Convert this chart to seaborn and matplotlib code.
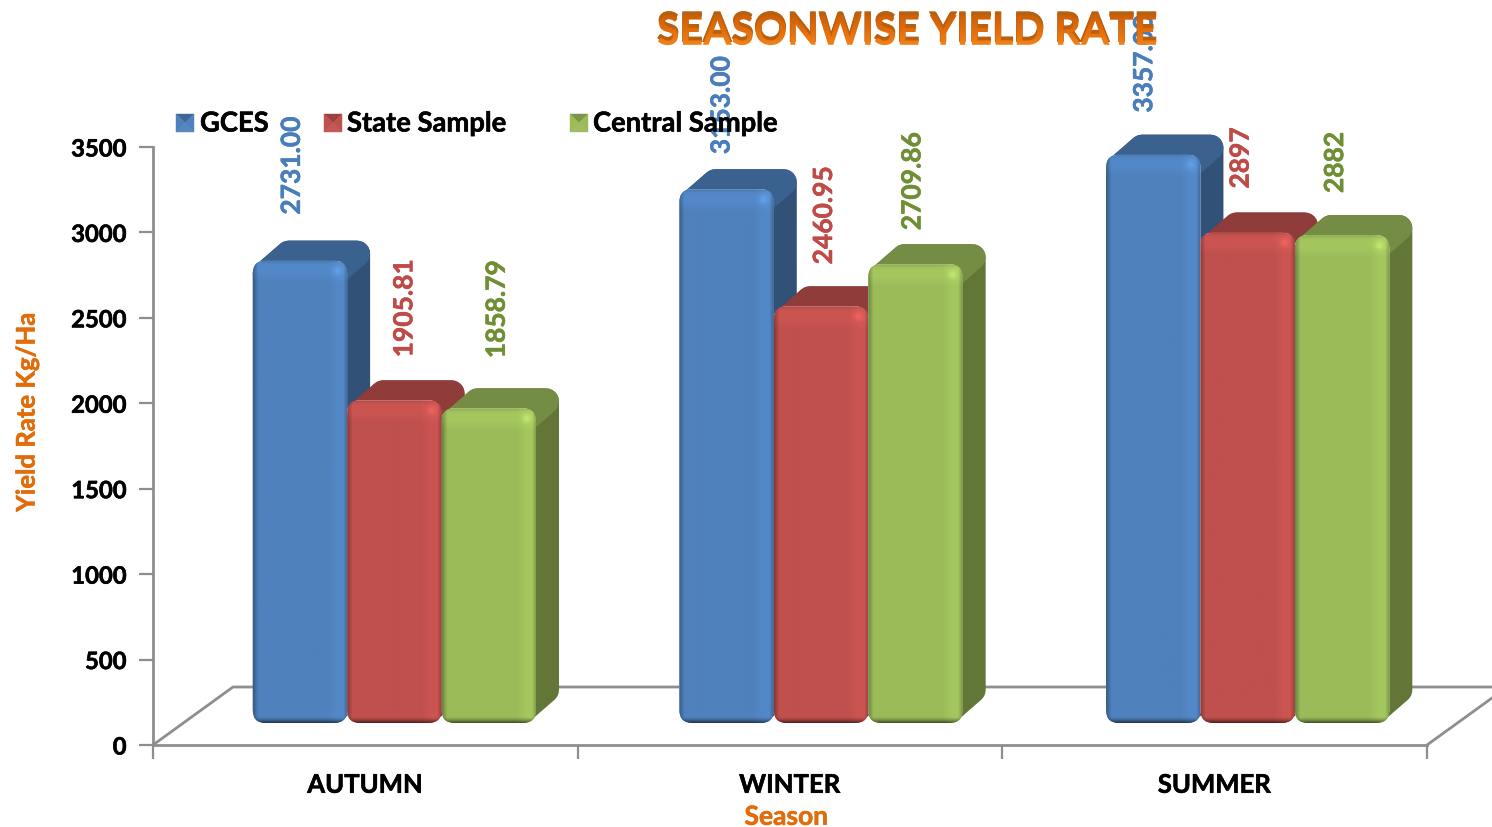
import numpy as np
import pandas as pd
import matplotlib
matplotlib.use("Agg")
import matplotlib.pyplot as plt
import matplotlib.patheffects as pe
from matplotlib.colors import to_rgb, LinearSegmentedColormap
from matplotlib.font_manager import FontProperties
from matplotlib.patches import FancyBboxPatch, PathPatch, Polygon
from matplotlib.path import Path
from matplotlib.textpath import TextPath
from matplotlib.transforms import Affine2D, IdentityTransform
import seaborn as sns

seasons = ["AUTUMN", "WINTER", "SUMMER"]
sample_names = ["GCES", "State Sample", "Central Sample"]
gces = [2731.00, 3153.00, 3357.00]
state_sample = [1905.81, 2460.95, 2897]
central_sample = [1858.79, 2709.86, 2882]
gces_labels = ["2731.00", "3153.00", "3357.00"]
state_labels = ["1905.81", "2460.95", "2897"]
central_labels = ["1858.79", "2709.86", "2882"]
y_ticks = [0, 500, 1000, 1500, 2000, 2500, 3000, 3500]

bar_colors = ["#4F81BD", "#C0504D", "#9BBB59"]
label_colors = ["#4A7EBB", "#BE4B48", "#6F8F35"]
orange = "#E36C0A"
grey = "#8E8E8E"

W, H = 1492, 827
# label nudges in pixels, the labels were placed by hand in the original
nudge_x = [-8, -5, -9, 10, 3, -7, 8, -3, -7]
nudge_y = [46, 35, 42, 43, 42, 44, 50, 34, 42]

sns.set_style("white")
plt.rcParams["font.family"] = ["Lato", "DejaVu Sans"]
plt.rcParams["font.weight"] = "bold"

df = pd.DataFrame({
    "season": seasons * 3,
    "sample": np.repeat(sample_names, 3),
    "rate": gces + state_sample + central_sample,
})
labels = gces_labels + state_labels + central_labels

fig = plt.figure(figsize=(W / 100, H / 100), dpi=100, facecolor="white")


def box(x0, y_top, x1, y_bottom):
    return [x0 / W, 1 - y_bottom / H, (x1 - x0) / W, (y_bottom - y_top) / H]


def heavy(color, lw=0.4):
    # Lato bold is lighter than the original face
    return [pe.withStroke(linewidth=lw, foreground=color)]


# axis frame
ax = fig.add_axes(box(153, 147, 1427, 745), zorder=0)
ax.set_xlim(0, 3)
ax.set_ylim(0, 3500)
ax.set_yticks(y_ticks)
ax.set_xticks([0, 1, 2, 3])
ax.set_xticklabels([])
ax.set_xticks([0.5, 1.5, 2.5], seasons, minor=True)
ax.tick_params(axis="both", which="major", length=10, width=1.6, color=grey,
               left=True, bottom=True, labelsize=17.2, pad=9, labelcolor="black")
ax.tick_params(axis="x", which="minor", length=0, labelsize=18.5, pad=20, labelcolor="black")
for t in ax.get_yticklabels() + ax.get_xticklabels(minor=True):
    t.set_path_effects(heavy("black"))
for s in ["top", "right"]:
    ax.spines[s].set_visible(False)
for s in ["left", "bottom"]:
    ax.spines[s].set_color(grey)
    ax.spines[s].set_linewidth(2)
ax.set_ylabel("Yield Rate Kg/Ha", color=orange, fontsize=18.5, fontweight="bold", path_effects=heavy(orange))
ax.yaxis.set_label_coords(-0.0898, 0.557)
ax.set_xlabel("Season", color=orange, fontsize=19, fontweight="bold", path_effects=heavy(orange))
ax.xaxis.set_label_coords(0.497, -0.1)

# floor of the 3d box
floor_x = [0, 80 / 1274, 1339 / 1274]
floor_y = [0, 58 / 598, 58 / 598]
ax.plot(floor_x, floor_y, color=grey, lw=2, transform=ax.transAxes, clip_on=False)
ax.plot([1, 1339 / 1274], [0, 47 / 598], color=grey, lw=2, transform=ax.transAxes, clip_on=False)

# bars sit on their own plane, a bit above the axis frame
ax_bar = fig.add_axes(box(181, 0, 1461, 723), zorder=1)
ax_bar.patch.set_alpha(0)
sns.barplot(data=df, x="season", y="rate", hue="sample", order=seasons, hue_order=sample_names,
            palette=bar_colors, saturation=1, width=0.664, gap=0, legend=False, ax=ax_bar)
ax_bar.set_xlim(-0.5, 2.5)
ax_bar.set_ylim(0, 723 / 0.1693)
ax_bar.axis("off")
fig.canvas.draw()

DX, DY, R = 23, 20, 13
pixel = IdentityTransform()


def face_image(color, w, h):
    # bevel: dark rim left and bottom, light band top and right
    xs, ys = np.meshgrid(np.arange(w), np.arange(h))
    from_right = w - 1 - xs
    from_bottom = h - 1 - ys
    shade = np.zeros((h, w))
    shade -= 0.28 * np.clip(1 - xs / 5, 0, 1)
    shade += 0.06 * np.clip(from_right / 5, 0, 1) * np.clip((20 - from_right) / 10, 0, 1)
    shade -= 0.20 * np.clip(1 - from_right / 4, 0, 1)
    shade += 0.06 * np.clip(ys / 6, 0, 1) * np.clip((22 - ys) / 10, 0, 1)
    shade -= 0.08 * np.clip(1 - ys / 3, 0, 1)
    shade -= 0.55 * np.clip(1 - from_bottom / 6, 0, 1) ** 1.5
    shade += 0.12 * np.exp(-(((from_right - 10) / 4.0) ** 2 + ((ys - 10) / 4.0) ** 2))
    rgb = np.array(to_rgb(color))[None, None, :]
    return np.clip(rgb * (1 + shade[:, :, None]), 0, 1)


bars = sorted(ax_bar.patches, key=lambda b: b.get_x())
for i, bar in enumerate(bars):
    z = 2 + i * 3
    color = np.array(to_rgb(bar.get_facecolor()[:3]))
    x = bar.get_x()
    w = bar.get_width()
    h = bar.get_height()
    (x0, y0), (x1, y1) = ax_bar.transData.transform([(x, 0), (x + w, h)])

    # side and top faces, the thick round edge gives the soft corners
    c = [(x0 + R, y0 + R), (x0 + R, y1 - R), (x0 + DX + R, y1 + DY - R),
         (x1 + DX - R, y1 + DY - R), (x1 + DX - R, y0 + DY + R), (x1 - R, y0 + R)]
    lw_pt = 2 * R * 0.72
    ax_bar.add_patch(Polygon(c, closed=True, transform=pixel, facecolor=color * 0.63, edgecolor=color * 0.63,
                             lw=lw_pt, joinstyle="round", zorder=z, clip_on=False))
    ax_bar.add_patch(Polygon([(x0 + R, y1 - R), (x0 + DX + R, y1 + DY - R), (x1 + DX - R, y1 + DY - R), (x1 - R, y1 - R)],
                             closed=True, transform=pixel, facecolor=color * 0.75, edgecolor=color * 0.75,
                             lw=lw_pt, joinstyle="round", zorder=z, clip_on=False))

    # front face, keeps the seaborn bar under a bevel image
    front = FancyBboxPatch((x0 + R, y0 + R), x1 - x0 - 2 * R, y1 - y0 - 2 * R,
                           boxstyle=f"round,pad={R},rounding_size={R}", transform=pixel, lw=0)
    bar.set_zorder(z + 1)
    bar.set_clip_path(front)
    img = face_image(color, int(round(x1 - x0)), int(round(y1 - y0)))
    im = ax_bar.imshow(img, extent=(x, x + w, 0, h), aspect="auto", zorder=z + 2, interpolation="bilinear")
    im.set_clip_path(front)

ax_bar.set_xlim(-0.5, 2.5)
ax_bar.set_ylim(0, 723 / 0.1693)

# value labels, one colour per series
for i, bar in enumerate(bars):
    series = i % 3
    # df order is series then season, bars are sorted by x
    k = (i // 3) + 3 * series
    ax_bar.annotate(labels[k], (bar.get_x() + bar.get_width() / 2, bar.get_height()),
                    xytext=(nudge_x[k], nudge_y[k]), textcoords="offset pixels",
                    rotation=90, ha="center", va="bottom", fontsize=19, fontweight="bold",
                    color=label_colors[series], zorder=50, annotation_clip=False,
                    path_effects=heavy(label_colors[series]))

# legend, spacing is uneven in the original so it is placed by hand
legend_x = [176, 324, 570]
legend_text_x = [200, 347, 593]
for name, color, lx, tx in zip(sample_names, bar_colors, legend_x, legend_text_x):
    c = np.array(to_rgb(color))
    x0, x1, y0, y1 = lx, lx + 18, H - 132, H - 114
    mx, my = lx + 9, H - 123
    tris = [([(x0, y1), (x1, y1), (mx, my)], c * 0.8),
            ([(x0, y0), (x1, y0), (mx, my)], c * 0.95 + 0.05),
            ([(x0, y0), (x0, y1), (mx, my)], c),
            ([(x1, y0), (x1, y1), (mx, my)], c)]
    for pts, fc in tris:
        fig.add_artist(Polygon(pts, closed=True, transform=pixel, facecolor=fc, edgecolor=fc, lw=0.3, zorder=5))
    fig.text(tx / W, 1 - 123.5 / H, name, fontsize=19.7, fontweight="bold", color="black", va="center", zorder=6,
             path_effects=heavy("black"))

# title, real text with a vertical gradient laid over its outline
title_size = 29.5
title = fig.text(907 / W, 1 - 30 / H, "SEASONWISE YIELD RATE", fontsize=title_size, fontweight="bold", color="#B9600F",
                 ha="center", va="center", zorder=7,
                 path_effects=[pe.withStroke(linewidth=0.7, foreground="#B9600F")])
fig.canvas.draw()
ext = title.get_window_extent()
fp = FontProperties(family="Lato", weight="bold")
tp = TextPath((0, 0), title.get_text(), size=title_size * 100 / 72, prop=fp)
tb = tp.get_extents()
glyphs = Path(tp.vertices, tp.codes)
move = Affine2D().translate(ext.x0 - tb.x0 + (ext.width - tb.width) / 2, ext.y0 - tb.y0 + (ext.height - tb.height) / 2)
ax_title = fig.add_axes([ext.x0 / W, ext.y0 / H, ext.width / W, ext.height / H], zorder=8)
ax_title.axis("off")
grad = LinearSegmentedColormap.from_list("title", ["#C65D08", "#E36C0A", "#F5861C"])
gim = ax_title.imshow(np.linspace(0, 1, 64)[:, None], cmap=grad, aspect="auto")
gim.set_clip_path(PathPatch(glyphs, transform=move, lw=0))

fig.savefig("out.png", dpi=100)
